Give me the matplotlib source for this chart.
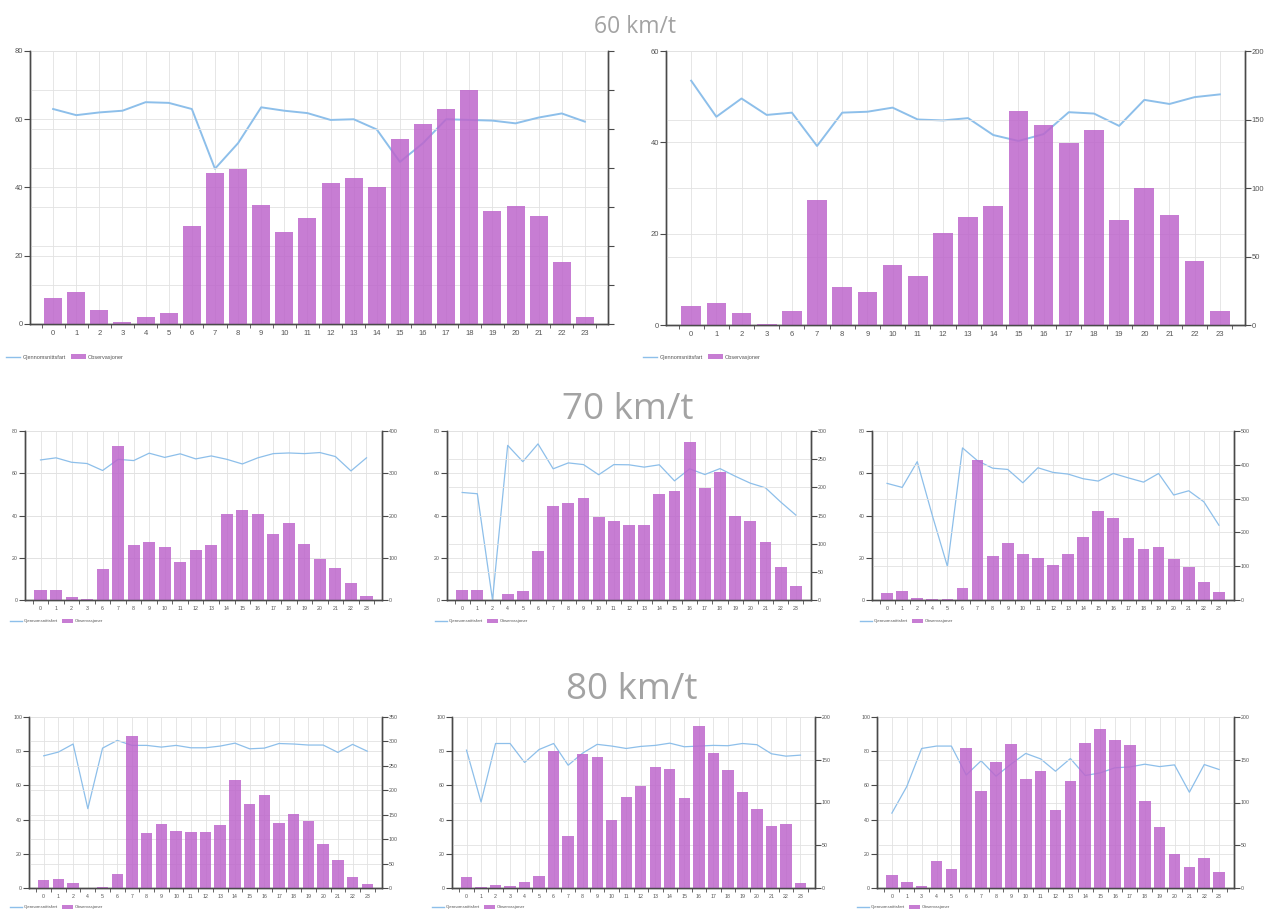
import matplotlib
matplotlib.use("Agg")
import matplotlib.pyplot as plt
from matplotlib.lines import Line2D
from matplotlib.patches import Patch
import numpy as np

plt.rcParams['font.family'] = ['Liberation Sans', 'DejaVu Sans']

# ---- 60 km/t ----
hours_60a = [0, 1, 2, 3, 4, 5, 6, 7, 8, 9, 10, 11, 12, 13, 14, 15, 16, 17, 18, 19, 20, 21, 22, 23]
speed_60a = [63.0, 61.2, 62.0, 62.5, 65.0, 64.8, 63.0, 45.5, 53.0, 63.5, 62.5, 61.8,
             59.8, 60.0, 57.0, 47.5, 53.0, 60.0, 59.8, 59.6, 58.8, 60.5, 61.7, 59.3]
count_60a = [33, 41, 18, 3, 9, 14, 126, 193, 199, 152, 118, 136,
             181, 187, 175, 237, 257, 276, 300, 145, 151, 139, 79, 9]

hours_60b = [0, 1, 2, 3, 6, 7, 8, 9, 10, 11, 12, 13, 14, 15, 16, 17, 18, 19, 20, 21, 22, 23]
speed_60b = [53.5, 45.6, 49.6, 46.0, 46.5, 39.2, 46.5, 46.7, 47.6, 45.0, 44.8,
             45.3, 41.6, 40.3, 41.8, 46.6, 46.3, 43.6, 49.3, 48.4, 49.9, 50.5]
count_60b = [14, 16, 9, 1, 10, 91, 28, 24, 44, 36, 67, 79, 87, 156, 146, 133,
             142, 77, 100, 80, 47, 10]

# ---- 70 km/t ----
hours_70a = [0, 1, 2, 3, 6, 7, 8, 9, 10, 11, 12, 13, 14, 15, 16, 17, 18, 19, 20, 21, 22, 23]
speed_70a = [66.3, 67.3, 65.2, 64.6, 61.3, 66.6, 66.0, 69.5, 67.5, 69.2, 66.8,
             68.2, 66.6, 64.4, 67.3, 69.3, 69.6, 69.3, 69.8, 67.9, 61.1, 67.3]
count_70a = [23, 23, 8, 2, 74, 365, 131, 138, 125, 91, 119, 129, 203, 214, 203,
             156, 182, 133, 98, 75, 40, 9]

hours_70b = [0, 1, 2, 4, 5, 6, 7, 8, 9, 10, 11, 12, 13, 14, 15, 16, 17, 18, 19, 20, 21, 22, 23]
speed_70b = [50.9, 50.3, 0.0, 73.2, 65.5, 73.9, 62.1, 64.9, 64.1, 59.3, 64.1, 64.0,
             62.9, 64.0, 56.4, 62.1, 59.4, 62.2, 58.6, 55.3, 53.1, 46.4, 40.2]
count_70b = [17, 18, 0, 10, 16, 87, 167, 173, 181, 147, 141, 134, 133, 189, 194,
             281, 199, 228, 149, 141, 103, 59, 24]

hours_70c = [0, 1, 2, 4, 5, 6, 7, 8, 9, 10, 11, 12, 13, 14, 15, 16, 17, 18, 19, 20, 21, 22, 23]
speed_70c = [55.2, 53.3, 65.5, 40.0, 15.9, 72.0, 65.9, 62.4, 61.8, 55.5, 62.6, 60.4,
             59.6, 57.4, 56.3, 59.9, 57.8, 55.8, 59.9, 49.7, 51.7, 46.5, 35.4]
count_70c = [21, 28, 6, 2, 2, 36, 413, 131, 170, 135, 125, 103, 135, 187, 262,
             244, 184, 150, 156, 120, 97, 52, 24]

# ---- 80 km/t ----
hours_80a = [0, 1, 2, 4, 5, 6, 7, 8, 9, 10, 11, 12, 13, 14, 15, 16, 17, 18, 19, 20, 21, 22, 23]
speed_80a = [77.3, 79.5, 84.2, 46.4, 81.8, 86.3, 83.4, 83.4, 82.4, 83.4, 82.0, 82.0,
             83.0, 84.7, 81.4, 81.8, 84.5, 84.2, 83.6, 83.6, 79.3, 84.0, 80.0]
count_80a = [16, 19, 10, 1, 2, 29, 312, 112, 131, 117, 114, 114, 129, 222, 171,
             191, 134, 151, 138, 90, 57, 22, 8]

hours_80b = [0, 1, 2, 3, 4, 5, 6, 7, 8, 9, 10, 11, 12, 13, 14, 15, 16, 17, 18, 19, 20, 21, 22, 23]
speed_80b = [80.6, 50.3, 84.5, 84.5, 73.4, 81.0, 84.5, 71.8, 78.9, 84.0, 83.0, 81.6,
             82.8, 83.4, 84.7, 82.6, 83.0, 83.4, 83.2, 84.5, 83.8, 78.5, 77.1, 77.7]
count_80b = [13, 1, 4, 2, 7, 14, 160, 61, 157, 153, 80, 106, 119, 141, 139, 105,
             190, 158, 138, 112, 92, 72, 75, 6]

hours_80c = [0, 1, 3, 4, 5, 6, 7, 8, 9, 10, 11, 12, 13, 14, 15, 16, 17, 18, 19, 20, 21, 22, 23]
speed_80c = [43.8, 59.3, 81.6, 83.0, 83.0, 66.1, 74.4, 65.4, 72.4, 78.7, 75.5, 68.3,
             75.7, 65.8, 67.3, 70.3, 70.8, 72.4, 71.0, 72.0, 56.0, 72.2, 69.3]
count_80c = [15, 7, 2, 32, 22, 164, 113, 147, 168, 127, 137, 91, 125, 170, 186,
             173, 167, 102, 71, 40, 24, 35, 19]

legend_labels = ['Gjennomsnittsfart', 'Observasjoner']

W, H = 1264, 909
fig = plt.figure(figsize=(W / 100, H / 100), dpi=100)

LINE_C = '#8dbfea'
BAR_C = (0.74, 0.40, 0.80, 0.85)
GRID_C = '#e2e2e2'
AX_C = '#4a4a4a'
TXT_C = '#555555'
TITLE_C = '#a3a3a3'


def px_axes(l, r, t, b):
    return fig.add_axes([l / W, 1 - b / H, (r - l) / W, (b - t) / H])


def panel(box, hours, speed, counts, lmax, lstep, rmax, rstep, fs, lw,
          leg_xy, leg_fs, right_labels=True):
    ax = px_axes(*box)
    n = len(hours)
    x = np.arange(n)
    ax.plot(x, speed, color=LINE_C, lw=lw, zorder=3)
    ax.set_xlim(-1, n)
    ax.set_ylim(0, lmax)
    ax.set_yticks(np.arange(0, lmax + 0.01, lstep))
    ax.set_xticks(x)
    ax.set_xticklabels([str(h) for h in hours])
    ax.set_xticks(np.arange(-0.5, n, 1), minor=True)
    ax.grid(True, which='major', color=GRID_C, lw=0.6)
    ax.set_axisbelow(True)

    ax2 = ax.twinx()
    ax2.bar(x, counts, width=0.78, color=BAR_C, zorder=2)
    ax2.set_ylim(0, rmax)
    ax2.set_yticks(np.arange(0, rmax + 0.01, rstep))
    ax2.grid(True, axis='y', color=GRID_C, lw=0.6)
    ax2.set_axisbelow(True)
    if not right_labels:
        ax2.set_yticklabels([])

    for a in (ax, ax2):
        a.spines['top'].set_visible(False)
        for s in ('left', 'right', 'bottom'):
            a.spines[s].set_color(AX_C)
            a.spines[s].set_linewidth(1.0)
        a.tick_params(axis='y', length=4, width=0.8, color=AX_C,
                      labelsize=fs, labelcolor=TXT_C, pad=1)
    ax.tick_params(axis='x', which='major', length=0, labelsize=fs,
                   labelcolor=TXT_C, pad=4)
    ax.tick_params(axis='x', which='minor', length=3, width=0.6, color=AX_C)

    handles = [Line2D([0], [0], color=LINE_C, lw=1.0),
               Patch(facecolor=BAR_C, edgecolor='none')]
    fig.legend(handles, legend_labels, loc='center left',
               bbox_to_anchor=(leg_xy[0] / W, 1 - leg_xy[1] / H),
               ncol=2, frameon=False, fontsize=leg_fs, handlelength=2.6,
               handleheight=0.9, handletextpad=0.4, columnspacing=1.0,
               borderaxespad=0, borderpad=0, labelcolor=TXT_C)
    return ax, ax2


# Top row: 60 km/t
panel((30, 608, 51, 324), hours_60a, speed_60a, count_60a, 80, 20, 350, 50,
      5.5, 1.4, (6, 357), 4.0, right_labels=False)
panel((666, 1245, 51, 325), hours_60b, speed_60b, count_60b, 60, 20, 200, 50,
      5.5, 1.4, (643, 357), 4.0)

# Middle row: 70 km/t
panel((25, 382, 431, 600), hours_70a, speed_70a, count_70a, 80, 20, 400, 100,
      3.8, 0.9, (10, 621), 3.2)
panel((447, 811, 431, 600), hours_70b, speed_70b, count_70b, 80, 20, 300, 50,
      3.8, 0.9, (435, 621), 3.2)
panel((872, 1234, 431, 600), hours_70c, speed_70c, count_70c, 80, 20, 500, 100,
      3.8, 0.9, (860, 621), 3.2)

# Bottom row: 80 km/t
panel((29, 382, 717, 888), hours_80a, speed_80a, count_80a, 100, 20, 350, 50,
      3.8, 0.9, (10, 907), 3.2)
panel((452, 815, 717, 888), hours_80b, speed_80b, count_80b, 100, 20, 200, 50,
      3.8, 0.9, (432, 907), 3.2)
panel((877, 1234, 717, 888), hours_80c, speed_80c, count_80c, 100, 20, 200, 50,
      3.8, 0.9, (857, 907), 3.2)

fig.text(635 / W, 1 - 27 / H, '60 km/t', ha='center', va='center',
         fontsize=16.5, color=TITLE_C, family=['Open Sans', 'DejaVu Sans'])
fig.text(628 / W, 1 - 410 / H, '70 km/t', ha='center', va='center',
         fontsize=26.5, color=TITLE_C, family=['Open Sans', 'DejaVu Sans'])
fig.text(632 / W, 1 - 690 / H, '80 km/t', ha='center', va='center',
         fontsize=26.5, color=TITLE_C, family=['Open Sans', 'DejaVu Sans'])

fig.savefig('out.png', dpi=100)
